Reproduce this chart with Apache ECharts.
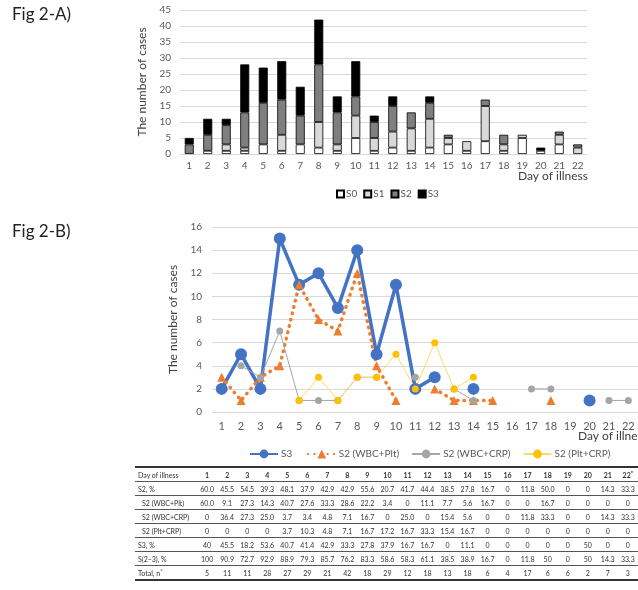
<!DOCTYPE html>
<html>
<head>
<meta charset="utf-8">
<script src="https://cdn.jsdelivr.net/npm/echarts@6/dist/echarts.min.js"></script>
<style>
  html, body { margin: 0; padding: 0; background: #fff; }
  #wrap { position: relative; width: 638px; height: 590px; overflow: hidden; }
  #chart { position: absolute; left: 0; top: 0; width: 638px; height: 590px; }
  #tbl { position: absolute; left: 135px; top: 466px; width: 503px; border-collapse: collapse;
         font-family: Lato, "Open Sans", sans-serif; font-size: 7px; color: #333; table-layout: fixed; }
  #tbl td { height: 13px; padding: 0; text-align: center; border-bottom: 1px solid #555; white-space: nowrap; }
  #tbl tr:first-child td { border-top: 2px solid #333; font-weight: bold; }
  #tbl tr:last-child td { border-bottom: 2px solid #333; }
  #tbl td.lab { text-align: left; padding-left: 3px; }
  #tbl td.sub { padding-left: 7px; }
  #tbl tr:first-child td.lab { font-weight: normal; }
</style>
</head>
<body>
<div id="wrap">
  <div id="chart"></div>
  <table id="tbl"></table>
</div>
<script>
// Day of illness (x categories shared by both panels)
const days = ['1','2','3','4','5','6','7','8','9','10','11','12','13','14','15','16','17','18','19','20','21','22'];

// Panel A: number of cases per severity stage (stacked)
const s0Cases = [0,1,1,1,3,1,3,2,1,5,1,2,1,2,3,1,4,1,5,1,3,0];
const s1Cases = [0,0,2,1,0,5,0,8,2,7,4,5,7,9,2,3,11,2,1,0,3,2];
const s2Cases = [3,5,6,11,13,11,9,18,10,6,5,8,5,5,1,0,2,3,0,0,1,1];
const s3Cases = [2,5,2,15,11,12,9,14,5,11,2,3,0,2,0,0,0,0,0,1,0,0];

// Panel B: cases per group (null = no case that day)
const s3Line   = [2,5,2,15,11,12,9,14,5,11,2,3,null,2,null,null,null,null,null,1,null,null];
const wbcPlt   = [3,1,3,4,11,8,7,12,4,1,null,2,1,1,1,null,null,1,null,null,null,null];
const wbcCrp   = [null,4,3,7,1,1,1,3,3,null,3,null,2,1,null,null,2,2,null,null,1,1];
const pltCrp   = [null,null,null,null,1,3,1,3,3,5,2,6,2,3,null,null,null,null,null,null,null,null];

// Summary table
const tableHeader = ['1','2','3','4','5','6','7','8','9','10','11','12','13','14','15','16','17','18','19','20','21','22<sup>*</sup>'];
const s2Pct     = ['60.0','45.5','54.5','39.3','48.1','37.9','42.9','42.9','55.6','20.7','41.7','44.4','38.5','27.8','16.7','0','11.8','50.0','0','0','14.3','33.3'];
const wbcPltPct = ['60.0','9.1','27.3','14.3','40.7','27.6','33.3','28.6','22.2','3.4','0','11.1','7.7','5.6','16.7','0','0','16.7','0','0','0','0'];
const wbcCrpPct = ['0','36.4','27.3','25.0','3.7','3.4','4.8','7.1','16.7','0','25.0','0','15.4','5.6','0','0','11.8','33.3','0','0','14.3','33.3'];
const pltCrpPct = ['0','0','0','0','3.7','10.3','4.8','7.1','16.7','17.2','16.7','33.3','15.4','16.7','0','0','0','0','0','0','0','0'];
const s3Pct     = ['40','45.5','18.2','53.6','40.7','41.4','42.9','33.3','27.8','37.9','16.7','16.7','0','11.1','0','0','0','0','0','50','0','0'];
const s23Pct    = ['100','90.9','72.7','92.9','88.9','79.3','85.7','76.2','83.3','58.6','58.3','61.1','38.5','38.9','16.7','0','11.8','50','0','50','14.3','33.3'];
const totalN    = ['5','11','11','28','27','29','21','42','18','29','12','18','13','18','6','4','17','6','6','2','7','3'];

// build table
(function buildTable() {
  const rows = [
    ['Day of illness', tableHeader, false],
    ['S2, %', s2Pct, false],
    ['S2 (WBC+Plt)', wbcPltPct, true],
    ['S2 (WBC+CRP)', wbcCrpPct, true],
    ['S2 (Plt+CRP)', pltCrpPct, true],
    ['S3, %', s3Pct, false],
    ['S(2\u22123), %', s23Pct, false],
    ['Total, n<sup>*</sup>', totalN, false]
  ];
  let html = '<colgroup><col style="width:62px">';
  for (let i = 0; i < days.length; i++) html += '<col style="width:20px">';
  html += '</colgroup>';
  rows.forEach(r => {
    html += '<tr><td class="lab' + (r[2] ? ' sub' : '') + '">' + r[0] + '</td>';
    r[1].forEach(v => { html += '<td>' + v + '</td>'; });
    html += '</tr>';
  });
  document.getElementById('tbl').innerHTML = html;
})();

const FONT = 'Lato, "Open Sans", sans-serif';
const zeroToNull = a => a.map(v => (v === 0 ? null : v));
const barBase = { type: 'bar', stack: 'stage', xAxisIndex: 0, yAxisIndex: 0, barWidth: 9 };

const chart = echarts.init(document.getElementById('chart'));
chart.setOption({
  animation: false,
  textStyle: { fontFamily: FONT },
  grid: [
    { left: 180, top: 10, width: 407, height: 144 },
    { left: 212, top: 227, width: 433, height: 185 }
  ],
  xAxis: [
    { type: 'category', gridIndex: 0, data: days,
      axisLine: { lineStyle: { color: '#d9d9d9' } }, axisTick: { show: false },
      axisLabel: { fontSize: 10, color: '#595959', margin: 7 } },
    { type: 'category', gridIndex: 1, data: days,
      axisLine: { lineStyle: { color: '#d9d9d9' } }, axisTick: { show: false },
      axisLabel: { fontSize: 11, color: '#595959', margin: 9 } }
  ],
  yAxis: [
    { type: 'value', gridIndex: 0, min: 0, max: 45, interval: 5,
      axisLine: { show: false }, axisTick: { show: false },
      splitLine: { lineStyle: { color: '#d9d9d9' } },
      axisLabel: { fontSize: 10, color: '#595959', margin: 9 },
      name: 'The number of cases', nameLocation: 'middle', nameGap: 30,
      nameTextStyle: { fontSize: 12, color: '#404040' } },
    { type: 'value', gridIndex: 1, min: 0, max: 16, interval: 2,
      axisLine: { show: false }, axisTick: { show: false },
      splitLine: { lineStyle: { color: '#d9d9d9' } },
      axisLabel: { fontSize: 10, color: '#595959', margin: 10 },
      name: 'The number of cases', nameLocation: 'middle', nameGap: 27,
      nameTextStyle: { fontSize: 12, color: '#404040' } }
  ],
  legend: [
    { data: ['S0','S1','S2','S3'], left: 331, top: 184, icon: 'rect',
      itemWidth: 7, itemHeight: 7, itemGap: 6,
      textStyle: { fontSize: 10, color: '#595959', padding: [0, 0, 0, -3] } },
    { data: ['S3 ', 'S2 (WBC+Plt)', 'S2 (WBC+CRP)', 'S2 (Plt+CRP)'], left: 244, top: 444,
      width: 420, itemWidth: 28, itemHeight: 11, itemGap: 12,
      textStyle: { fontSize: 10, color: '#595959', padding: [0, 0, 0, -2] } }
  ],
  graphic: [
    { type: 'text', left: 12, top: 6, style: { text: 'Fig 2-A)', font: '17px ' + FONT, fill: '#222' } },
    { type: 'text', left: 12, top: 223, style: { text: 'Fig 2-B)', font: '17px ' + FONT, fill: '#222' } },
    { type: 'text', left: 518, top: 170, style: { text: 'Day of illness', font: '12px ' + FONT, fill: '#404040' } },
    { type: 'text', left: 578, top: 430, style: { text: 'Day of illness', font: '12px ' + FONT, fill: '#404040' } }
  ],
  series: [
    Object.assign({ name: 'S0', data: zeroToNull(s0Cases),
      itemStyle: { color: '#ffffff', borderColor: '#000', borderWidth: 0.8 } }, barBase),
    Object.assign({ name: 'S1', data: zeroToNull(s1Cases),
      itemStyle: { color: '#d9d9d9', borderColor: '#000', borderWidth: 0.8 } }, barBase),
    Object.assign({ name: 'S2', data: zeroToNull(s2Cases),
      itemStyle: { color: '#7f7f7f', borderColor: '#000', borderWidth: 0.8 } }, barBase),
    Object.assign({ name: 'S3', data: zeroToNull(s3Cases),
      itemStyle: { color: '#000000', borderColor: '#000', borderWidth: 0.8 } }, barBase),

    { name: 'S3 ', type: 'line', xAxisIndex: 1, yAxisIndex: 1, data: s3Line,
      symbol: 'circle', symbolSize: 12, connectNulls: false,
      lineStyle: { color: '#4472c4', width: 3.5 }, itemStyle: { color: '#4472c4' } },
    { name: 'S2 (WBC+Plt)', type: 'line', xAxisIndex: 1, yAxisIndex: 1, data: wbcPlt,
      symbol: 'triangle', symbolSize: 9, connectNulls: false,
      lineStyle: { color: '#ed7d31', width: 3.5, type: [0.5, 6], cap: 'round' },
      itemStyle: { color: '#ed7d31' } },
    { name: 'S2 (WBC+CRP)', type: 'line', xAxisIndex: 1, yAxisIndex: 1, data: wbcCrp,
      symbol: 'circle', symbolSize: 7, connectNulls: false,
      lineStyle: { color: '#a5a5a5', width: 1 }, itemStyle: { color: '#a5a5a5' } },
    { name: 'S2 (Plt+CRP)', type: 'line', xAxisIndex: 1, yAxisIndex: 1, data: pltCrp,
      symbol: 'circle', symbolSize: 7, connectNulls: false,
      lineStyle: { color: '#ffd966', width: 1 }, itemStyle: { color: '#ffc000' } }
  ]
});
</script>
</body>
</html>
